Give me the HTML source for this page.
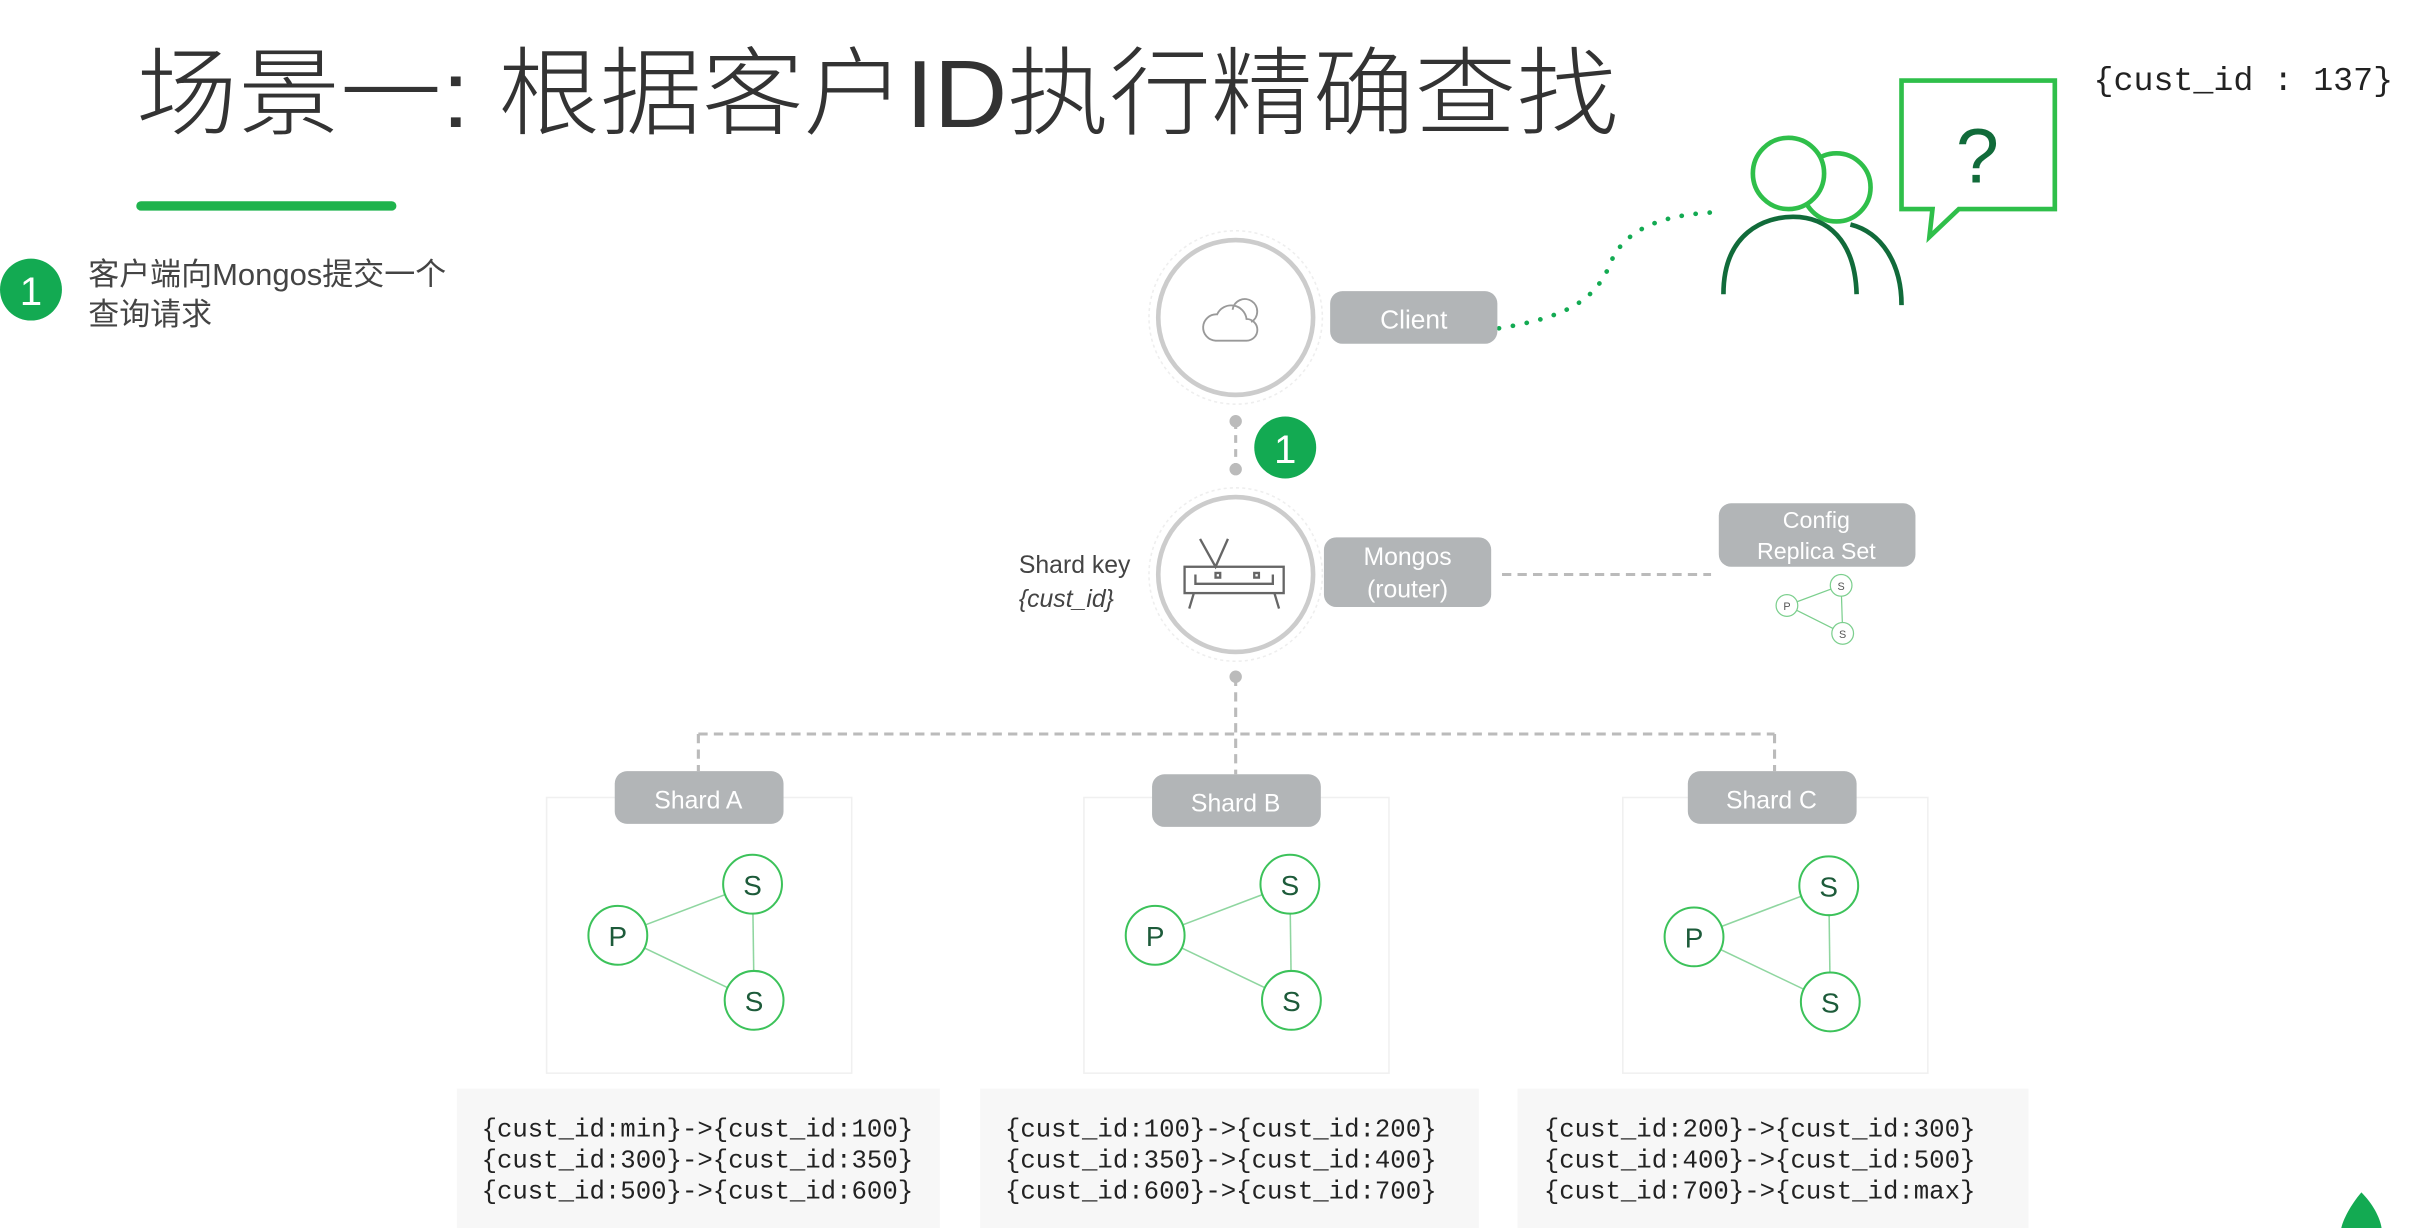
<!DOCTYPE html>
<html><head><meta charset="utf-8"><style>
html,body{margin:0;padding:0;background:#fff;}
svg{display:block;}
text{font-family:"Liberation Sans","Noto Sans CJK SC",sans-serif;}
.mono{font-family:"Liberation Mono","DejaVu Sans Mono",monospace;}
</style></head><body>
<svg width="2428" height="1228" viewBox="0 0 1568 793" preserveAspectRatio="none" xmlns="http://www.w3.org/2000/svg">
<rect width="1568" height="793" fill="#fff"/>
<!-- title -->
<text x="88" y="82" font-size="62" fill="#333" textLength="957" lengthAdjust="spacingAndGlyphs" style="font-weight:300">场景一: 根据客户ID执行精确查找</text>
<rect x="88" y="130" width="168" height="6" rx="3" fill="#1fb34d"/>
<circle cx="20" cy="187" r="20" fill="#13aa52"/>
<text x="20" y="197" font-size="26" fill="#fff" text-anchor="middle">1</text>
<text x="57" y="184" font-size="20" fill="#444">客户端向Mongos提交一个</text>
<text x="57" y="210" font-size="20" fill="#444">查询请求</text>
<text x="1352" y="58" font-size="21.5" class="mono" fill="#222">{cust_id : 137}</text>

<!-- people + bubble -->
<path d="M968 212 C1010 205 1030 195 1040 170 C1050 145 1080 138 1110 137" fill="none" stroke="#13aa52" stroke-width="3" stroke-dasharray="0.1 9" stroke-linecap="round"/>
<circle cx="1186" cy="121" r="22" fill="#fff" stroke="#2fbf4a" stroke-width="3"/>
<circle cx="1155" cy="112" r="23" fill="#fff" stroke="#2fbf4a" stroke-width="3"/>
<path d="M1113 190 C1113 150 1140 140 1158 140 C1180 140 1198 155 1199 190" fill="none" stroke="#116b3a" stroke-width="3"/>
<path d="M1195 145 C1215 150 1228 170 1228 197" fill="none" stroke="#116b3a" stroke-width="3"/>
<path d="M1228 52 H1327 V135 H1265 L1246 153 L1248 135 H1228 Z" fill="#fff" stroke="#2fbf4a" stroke-width="3"/>
<text x="1277" y="118" font-size="50" fill="#116b3a" text-anchor="middle" style="font-weight:300">?</text>

<!-- client -->
<circle cx="798" cy="205" r="56" fill="none" stroke="#eee" stroke-width="1" stroke-dasharray="2 2"/>
<circle cx="798" cy="205" r="50" fill="#fff" stroke="#ccc" stroke-width="3"/>
<path d="M785 220 h20 a7 7 0 0 0 0-14 a10 10 0 0 0 -19-3 a8 8 0 0 0 -1 17 Z M796 200 a8 8 0 1 1 12 8" fill="none" stroke="#999" stroke-width="1.2"/>
<rect x="859" y="188" width="108" height="34" rx="8" fill="#b2b5b7"/>
<text x="913" y="212" font-size="17" fill="#fff" text-anchor="middle">Client</text>

<!-- connector 1 -->
<circle cx="798" cy="272" r="4" fill="#bbb"/><circle cx="798" cy="303" r="4" fill="#bbb"/>
<line x1="798" y1="272" x2="798" y2="303" stroke="#bbb" stroke-width="2" stroke-dasharray="5 4"/>
<circle cx="830" cy="289" r="20" fill="#13aa52"/>
<text x="830" y="299" font-size="26" fill="#fff" text-anchor="middle">1</text>

<!-- mongos -->
<circle cx="798" cy="371" r="56" fill="none" stroke="#eee" stroke-width="1" stroke-dasharray="2 2"/>
<circle cx="798" cy="371" r="50" fill="#fff" stroke="#ccc" stroke-width="3"/>
<g stroke="#666" stroke-width="1.5" fill="none">
<path d="M775 348 L785 366 L793 348"/>
<rect x="765" y="366" width="64" height="17"/>
<path d="M772 371 v6 h50 v-6"/>
<path d="M771 383 l-3 10 M823 383 l3 10"/>
<rect x="785" y="370" width="3" height="3"/><rect x="810" y="370" width="3" height="3"/>
</g>
<text x="658" y="370" font-size="16" fill="#444">Shard key</text>
<text x="658" y="392" font-size="16" fill="#444" font-style="italic">{cust_id}</text>
<rect x="855" y="347" width="108" height="45" rx="8" fill="#b2b5b7"/>
<text x="909" y="365" font-size="16" fill="#fff" text-anchor="middle">Mongos</text>
<text x="909" y="386" font-size="16" fill="#fff" text-anchor="middle">(router)</text>
<line x1="970" y1="371" x2="1105" y2="371" stroke="#bbb" stroke-width="2" stroke-dasharray="6 4"/>
<rect x="1110" y="325" width="127" height="41" rx="8" fill="#b2b5b7"/>
<text x="1173" y="341" font-size="15" fill="#fff" text-anchor="middle">Config</text>
<text x="1173" y="361" font-size="15" fill="#fff" text-anchor="middle">Replica Set</text>
<g stroke="#7ccf8e" stroke-width="0.8" fill="#fff">
<line x1="1154" y1="391" x2="1189" y2="378"/><line x1="1154" y1="391" x2="1190" y2="409"/><line x1="1189" y1="378" x2="1190" y2="409"/>
<circle cx="1154" cy="391" r="7"/><circle cx="1189" cy="378" r="7"/><circle cx="1190" cy="409" r="7"/>
</g>
<g font-size="7" fill="#555" text-anchor="middle"><text x="1154" y="394">P</text><text x="1189" y="381">S</text><text x="1190" y="412">S</text></g>

<!-- tree -->
<circle cx="798" cy="437" r="4" fill="#bbb"/>
<g stroke="#bbb" stroke-width="2" stroke-dasharray="6 4" fill="none">
<line x1="798" y1="437" x2="798" y2="500"/>
<line x1="451" y1="474" x2="1146" y2="474"/>
<line x1="451" y1="474" x2="451" y2="498"/>
<line x1="1146" y1="474" x2="1146" y2="498"/>
</g>

<!-- shards -->
<rect x="353" y="515" width="197" height="178" fill="#fff" stroke="#f0f0f0"/>
<rect x="397" y="498" width="109" height="34" rx="8" fill="#b2b5b7"/>
<text x="451" y="522" font-size="16" fill="#fff" text-anchor="middle">Shard A</text>
<rect x="700" y="515" width="197" height="178" fill="#fff" stroke="#f0f0f0"/>
<rect x="744" y="500" width="109" height="34" rx="8" fill="#b2b5b7"/>
<text x="798" y="524" font-size="16" fill="#fff" text-anchor="middle">Shard B</text>
<rect x="1048" y="515" width="197" height="178" fill="#fff" stroke="#f0f0f0"/>
<rect x="1090" y="498" width="109" height="34" rx="8" fill="#b2b5b7"/>
<text x="1144" y="522" font-size="16" fill="#fff" text-anchor="middle">Shard C</text>

<g id="pss">
<g stroke="#8fd6a0" stroke-width="1" fill="#fff">
<line x1="399" y1="604" x2="486" y2="571"/><line x1="399" y1="604" x2="487" y2="646"/><line x1="486" y1="571" x2="487" y2="646"/>
</g>
<g stroke="#3cc25a" stroke-width="1.3" fill="#fff">
<circle cx="399" cy="604" r="19"/><circle cx="486" cy="571" r="19"/><circle cx="487" cy="646" r="19"/>
</g>
<g font-size="18" fill="#1d5b3a" text-anchor="middle"><text x="399" y="611">P</text><text x="486" y="578">S</text><text x="487" y="653">S</text></g>
</g>
<use href="#pss" x="347" y="0"/>
<use href="#pss" x="695" y="1"/>

<!-- ranges -->
<rect x="295" y="703" width="312" height="90" fill="#f7f7f7"/>
<rect x="633" y="703" width="322" height="90" fill="#f7f7f7"/>
<rect x="980" y="703" width="330" height="90" fill="#f7f7f7"/>
<g class="mono" font-size="16.6" fill="#222">
<text x="311" y="734" class="mono">{cust_id:min}-&gt;{cust_id:100}</text>
<text x="311" y="754" class="mono">{cust_id:300}-&gt;{cust_id:350}</text>
<text x="311" y="774" class="mono">{cust_id:500}-&gt;{cust_id:600}</text>
<text x="649" y="734" class="mono">{cust_id:100}-&gt;{cust_id:200}</text>
<text x="649" y="754" class="mono">{cust_id:350}-&gt;{cust_id:400}</text>
<text x="649" y="774" class="mono">{cust_id:600}-&gt;{cust_id:700}</text>
<text x="997" y="734" class="mono">{cust_id:200}-&gt;{cust_id:300}</text>
<text x="997" y="754" class="mono">{cust_id:400}-&gt;{cust_id:500}</text>
<text x="997" y="774" class="mono">{cust_id:700}-&gt;{cust_id:max}</text>
</g>
<path d="M1525 770 C1518 778 1513 788 1512 793 H1538 C1537 786 1532 777 1525 770 Z" fill="#13aa52"/>
</svg>
</body></html>
